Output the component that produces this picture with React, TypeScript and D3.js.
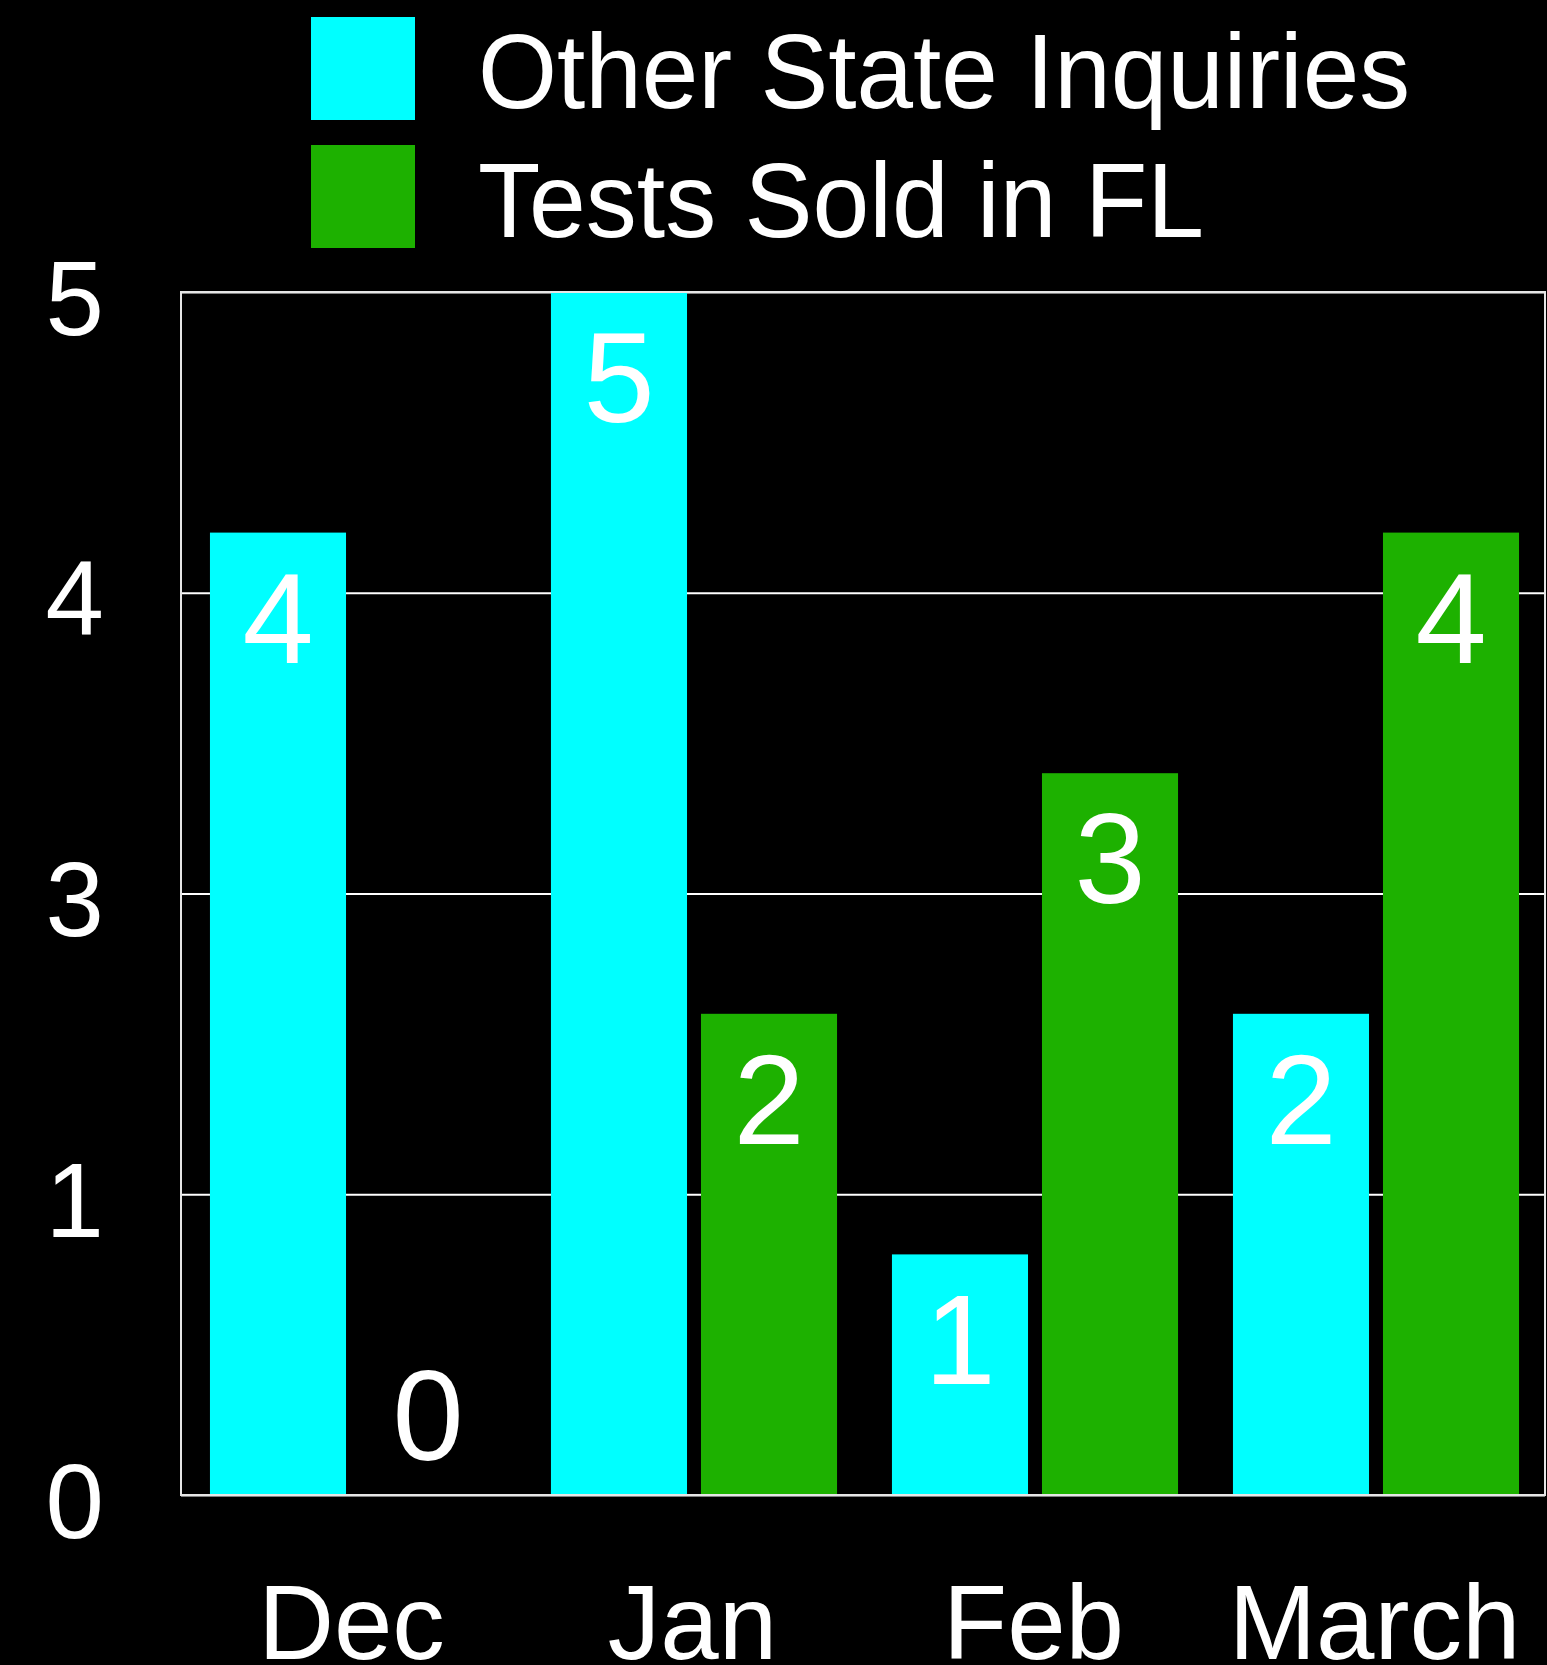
import { useEffect, useRef } from 'react';
import * as d3 from 'd3';

// Chart data
const categories: string[] = ['Dec', 'Jan', 'Feb', 'March'];
const seriesNames: string[] = ['Other State Inquiries', 'Tests Sold in FL'];
const otherStateInquiries: number[] = [4, 5, 1, 2];
const testsSoldInFL: number[] = [0, 2, 3, 4];
const seriesColors: string[] = ['#00ffff', '#1db100'];
const yTickValues: number[] = [0, 1.25, 2.5, 3.75, 5]; // labels are rounded, as in the source
const legendTextWidths: number[] = [932, 726]; // the source font runs narrower than Liberation Sans

interface BarDatum {
    category: string;
    series: string;
    value: number;
    color: string;
}

const FONT = '"Helvetica Neue", "Liberation Sans", Arial, sans-serif';

export default function App() {
    const svgRef = useRef<SVGSVGElement | null>(null);

    useEffect(() => {
        if (!svgRef.current) return;
        document.body.style.margin = '0';
        document.body.style.background = '#000';

        const svg = d3.select(svgRef.current);
        svg.selectAll('*').remove();

        const width = 1547;
        const height = 1665;
        const margin = { top: 292, right: 2, bottom: 170, left: 181 };
        const innerWidth = width - margin.left - margin.right;
        const innerHeight = height - margin.top - margin.bottom;

        svg.append('rect').attr('width', width).attr('height', height).attr('fill', '#000');

        const g = svg.append('g').attr('transform', `translate(${margin.left},${margin.top})`);

        // Scales
        const x0 = d3.scaleBand<string>().domain(categories).range([0, innerWidth]).padding(0);
        const x1 = d3.scaleBand<string>().domain(seriesNames).range([1.5, x0.bandwidth() + 1.5])
            .paddingInner(0.093).paddingOuter(0.183);
        const y = d3.scaleLinear().domain([0, 5]).range([innerHeight, 0]);

        // Y axis with gridlines
        const yAxis = g.append('g')
            .call(d3.axisLeft(y).tickValues(yTickValues).tickSizeInner(-innerWidth).tickSizeOuter(0)
                .tickPadding(77).tickFormat(d => String(Math.round(+d))));
        yAxis.select('.domain').remove();
        yAxis.selectAll('line').attr('stroke', '#ffffff').attr('stroke-width', 2);
        yAxis.selectAll('text')
            .attr('fill', '#ffffff')
            .attr('font-family', FONT)
            .attr('font-weight', 300)
            .attr('font-size', 105)
            .attr('dy', '0.4em');

        // X axis labels
        const xAxis = g.append('g')
            .attr('transform', `translate(0,${innerHeight})`)
            .call(d3.axisBottom(x0).tickSize(0));
        xAxis.select('.domain').remove();
        xAxis.selectAll('text')
            .attr('fill', '#ffffff')
            .attr('font-family', FONT)
            .attr('font-weight', 300)
            .attr('font-size', 105)
            .attr('y', 164)
            .attr('dy', 0);

        // Bars
        const rows: BarDatum[][] = categories.map((c, i) => [
            { category: c, series: seriesNames[0], value: otherStateInquiries[i], color: seriesColors[0] },
            { category: c, series: seriesNames[1], value: testsSoldInFL[i], color: seriesColors[1] },
        ]);

        const groups = g.selectAll('g.group')
            .data(rows)
            .join('g')
            .attr('class', 'group')
            .attr('transform', d => `translate(${x0(d[0].category)},0)`);

        groups.selectAll('rect')
            .data(d => d)
            .join('rect')
            .attr('x', d => x1(d.series) as number)
            .attr('y', d => y(d.value))
            .attr('width', x1.bandwidth())
            .attr('height', d => innerHeight - y(d.value))
            .attr('fill', d => d.color);

        groups.selectAll('text.value')
            .data(d => d)
            .join('text')
            .attr('class', 'value')
            .attr('x', d => (x1(d.series) as number) + x1.bandwidth() / 2)
            .attr('y', d => d.value === 0 ? y(0) - 35 : y(d.value) + 130)
            .attr('text-anchor', 'middle')
            .attr('fill', '#ffffff')
            .attr('font-family', FONT)
            .attr('font-weight', 300)
            .attr('font-size', 128)
            .text(d => d.value);

        // Frame
        g.append('rect')
            .attr('width', innerWidth)
            .attr('height', innerHeight)
            .attr('fill', 'none')
            .attr('stroke', '#e6e6e6')
            .attr('stroke-width', 2);

        // Legend
        const legend = svg.append('g');
        seriesNames.forEach((name, i) => {
            legend.append('rect')
                .attr('x', 311)
                .attr('y', 17 + i * 128)
                .attr('width', 104)
                .attr('height', 103)
                .attr('fill', seriesColors[i]);
            legend.append('text')
                .attr('x', 478)
                .attr('y', 108 + i * 129)
                .attr('fill', '#ffffff')
                .attr('font-family', FONT)
                .attr('font-weight', 300)
                .attr('font-size', 106)
                .attr('textLength', legendTextWidths[i])
                .attr('lengthAdjust', 'spacingAndGlyphs')
                .text(name);
        });

        return () => {
            svg.selectAll('*').remove();
        };
    }, []);

    return (
        <svg ref={svgRef} width={1547} height={1665} style={{ display: 'block', position: 'absolute', left: 0, top: 0 }}></svg>
    );
}
